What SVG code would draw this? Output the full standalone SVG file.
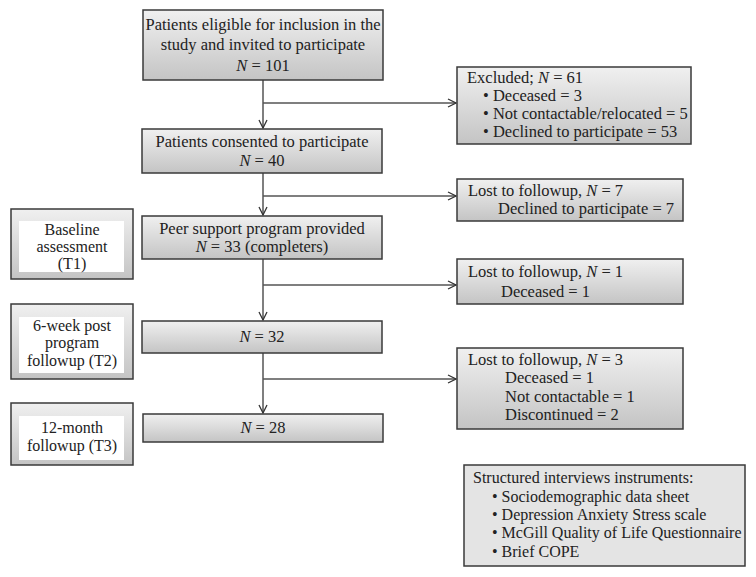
<svg xmlns="http://www.w3.org/2000/svg" width="756" height="577" viewBox="0 0 756 577">
<defs>
<linearGradient id="g" x1="0" y1="0" x2="0" y2="1">
<stop offset="0" stop-color="#f0f0f0"/>
<stop offset="1" stop-color="#c4c4c4"/>
</linearGradient>
<marker id="ah" viewBox="0 0 10 10" refX="9" refY="5" markerWidth="10" markerHeight="10" markerUnits="userSpaceOnUse" orient="auto">
<path d="M1,1 L9,5 L1,9" fill="none" stroke="#333" stroke-width="1.3"/>
</marker>
</defs>
<style>
.box{fill:url(#g);stroke:#3a3a3a;stroke-width:1.5}
.flat{fill:#e4e4e4;stroke:#3a3a3a;stroke-width:1.5}
.inner{fill:#ffffff;stroke:none}
.t{font-family:"Liberation Serif","Times New Roman",serif;font-size:16.5px;fill:#222}
.s{font-size:16px}
.c{text-anchor:middle}
.conn{fill:none;stroke:#555;stroke-width:1.5}
</style>
<rect width="756" height="577" fill="#ffffff"/>
<g id="connectors">
<path class="conn" d="M263,80 V128" marker-end="url(#ah)"/>
<path class="conn" d="M263,103 H456" marker-end="url(#ah)"/>
<path class="conn" d="M263,173 V215" marker-end="url(#ah)"/>
<path class="conn" d="M263,196 H456" marker-end="url(#ah)"/>
<path class="conn" d="M263,259 V320" marker-end="url(#ah)"/>
<path class="conn" d="M263,285 H456" marker-end="url(#ah)"/>
<path class="conn" d="M263,353 V413" marker-end="url(#ah)"/>
<path class="conn" d="M263,379 H456" marker-end="url(#ah)"/>
</g>
<g id="eligible">
<rect class="box" x="143" y="10" width="240" height="70"/>
<text class="t c" x="263" y="30">Patients eligible for inclusion in the</text>
<text class="t c" x="263" y="50">study and invited to participate</text>
<text class="t c" x="263" y="71"><tspan font-style="italic">N</tspan> = 101</text>
</g>
<g id="excluded">
<rect class="box" x="457" y="67" width="234" height="77"/>
<text class="t" x="467" y="83">Excluded; <tspan font-style="italic">N</tspan> = 61</text>
<text class="t" x="483" y="101">• Deceased = 3</text>
<text class="t" x="483" y="119">• Not contactable/relocated = 5</text>
<text class="t" x="483" y="137">• Declined to participate = 53</text>
</g>
<g id="consented">
<rect class="box" x="142" y="129" width="240" height="44"/>
<text class="t c" x="262" y="147">Patients consented to participate</text>
<text class="t c" x="262" y="166"><tspan font-style="italic">N</tspan> = 40</text>
</g>
<g id="lost7">
<rect class="box" x="457" y="179" width="226" height="42"/>
<text class="t" x="468" y="196">Lost to followup, <tspan font-style="italic">N</tspan> = 7</text>
<text class="t" x="498" y="214">Declined to participate = 7</text>
</g>
<g id="peer">
<rect class="box" x="142" y="216" width="240" height="43"/>
<text class="t c" x="262" y="234">Peer support program provided</text>
<text class="t c" x="262" y="252"><tspan font-style="italic">N</tspan> = 33 (completers)</text>
</g>
<g id="baseline">
<rect class="box" x="11" y="209" width="122" height="70"/>
<rect class="inner" x="19" y="221" width="105" height="51"/>
<text class="t s c" x="72" y="235">Baseline</text>
<text class="t s c" x="72" y="252">assessment</text>
<text class="t s c" x="72" y="269">(T1)</text>
</g>
<g id="lost1">
<rect class="box" x="457" y="259" width="226" height="45"/>
<text class="t" x="468" y="277">Lost to followup, <tspan font-style="italic">N</tspan> = 1</text>
<text class="t" x="501" y="297">Deceased = 1</text>
</g>
<g id="n32">
<rect class="box" x="142" y="321" width="240" height="32"/>
<text class="t c" x="262" y="342"><tspan font-style="italic">N</tspan> = 32</text>
</g>
<g id="sixweek">
<rect class="box" x="11" y="304" width="122" height="75"/>
<rect class="inner" x="19" y="317" width="105" height="56"/>
<text class="t s c" x="72" y="331">6-week post</text>
<text class="t s c" x="72" y="348">program</text>
<text class="t s c" x="72" y="366">followup (T2)</text>
</g>
<g id="lost3">
<rect class="box" x="457" y="348" width="226" height="81"/>
<text class="t" x="468" y="365">Lost to followup, <tspan font-style="italic">N</tspan> = 3</text>
<text class="t" x="505" y="383">Deceased = 1</text>
<text class="t" x="505" y="402">Not contactable = 1</text>
<text class="t" x="505" y="420">Discontinued = 2</text>
</g>
<g id="n28">
<rect class="box" x="143" y="414" width="240" height="28"/>
<text class="t c" x="263" y="433"><tspan font-style="italic">N</tspan> = 28</text>
</g>
<g id="twelvemonth">
<rect class="box" x="11" y="403" width="122" height="62"/>
<rect class="inner" x="19" y="416" width="105" height="44"/>
<text class="t s c" x="72" y="433">12-month</text>
<text class="t s c" x="72" y="451">followup (T3)</text>
</g>
<g id="instruments">
<rect class="flat" x="464" y="465" width="281" height="101"/>
<text class="t s" x="473" y="483">Structured interviews instruments:</text>
<text class="t s" x="492" y="502">• Sociodemographic data sheet</text>
<text class="t s" x="492" y="520">• Depression Anxiety Stress scale</text>
<text class="t s" x="492" y="538">• McGill Quality of Life Questionnaire</text>
<text class="t s" x="492" y="557">• Brief COPE</text>
</g>
</svg>
